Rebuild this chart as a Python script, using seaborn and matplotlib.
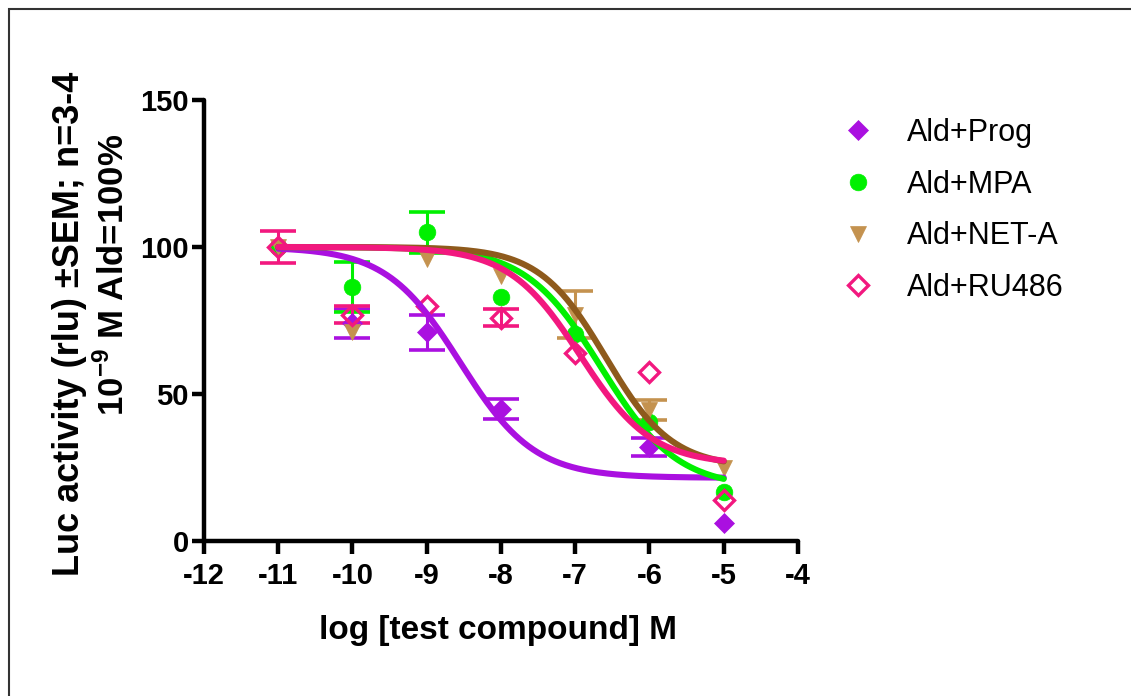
import numpy as np
import pandas as pd
import matplotlib
matplotlib.use("Agg")
import matplotlib.pyplot as plt
import seaborn as sns
from matplotlib.lines import Line2D
from matplotlib.patches import Rectangle

# ---------------- data ----------------
series_names = ["Ald+Prog", "Ald+MPA", "Ald+NET-A", "Ald+RU486"]
log_conc = [-11, -10, -9, -8, -7, -6, -5]

prog_mean = [100, 74, 71, 45, np.nan, 32, 6]
prog_sem = [0, 5, 6, 3.4, 0, 3, 0]
mpa_mean = [100, 86.5, 105, 83, 70.5, 40.5, 16.5]
mpa_sem = [0, 8.5, 7, 0, 0, 0, 0]
neta_mean = [100, 71, 96, 90, 77, 44.5, 25]
neta_sem = [0, 0, 0, 0, 8, 3.5, 0]
ru_mean = [100, 77, 80, 76, 64, 57.5, 14]
ru_sem = [5.5, 3, 0, 3, 0, 0, 0]

# sigmoidal dose-response fit parameters (top, bottom, logEC50, hill slope)
fit_top = [100, 100, 100, 100]
fit_bottom = [21.5, 18, 25, 26]
fit_logec50 = [-8.55, -6.65, -6.59, -6.93]
fit_hill = [0.87, 0.85, 0.97, 0.90]
fit_range = [-11, -5]

x_ticks = [-12, -11, -10, -9, -8, -7, -6, -5, -4]
y_ticks = [0, 50, 100, 150]

# ---------------- styles ----------------
marker_colors = ["#AA10E0", "#00F000", "#C4924F", "#F2187F"]
line_colors = ["#AA10E0", "#00F000", "#8E5A1C", "#F2187F"]
markers = ["D", "o", "v", "D"]
marker_sizes = [10, 12, 12, 10]
filled = [True, True, True, False]

sns.set_style("ticks")
plt.rcParams["font.family"] = ["Liberation Sans", "DejaVu Sans"]
plt.rcParams["text.color"] = "black"
plt.rcParams["xtick.color"] = "black"
plt.rcParams["ytick.color"] = "black"
plt.rcParams["mathtext.fontset"] = "custom"
plt.rcParams["mathtext.rm"] = "Liberation Sans:bold"
plt.rcParams["mathtext.bf"] = "Liberation Sans:bold"

W, H = 1131, 696
fig = plt.figure(figsize=(W / 100, H / 100), dpi=100)
ax = fig.add_axes([204 / W, 1 - 541 / H, (798 - 204) / W, (541 - 100) / H])

means = [prog_mean, mpa_mean, neta_mean, ru_mean]
sems = [prog_sem, mpa_sem, neta_sem, ru_sem]

# points with error bars
for i, name in enumerate(series_names):
    x = np.array(log_conc, dtype=float)
    m = np.array(means[i], dtype=float)
    e = np.array(sems[i], dtype=float)
    keep = e > 0
    ax.errorbar(x[keep], m[keep], yerr=e[keep], fmt="none",
                ecolor=marker_colors[i], elinewidth=2.2, capsize=13,
                capthick=2.6, zorder=2 + i * 0.1, clip_on=False)
    ax.plot(x, m, linestyle="none", marker=markers[i],
            ms=marker_sizes[i],
            mfc=marker_colors[i] if filled[i] else "none",
            mec=marker_colors[i], mew=2.4 if not filled[i] else 0.5,
            zorder=3 + i * 0.1, clip_on=False)

# fitted curves
rows = []
xs = np.linspace(fit_range[0], fit_range[1], 300)
for i, name in enumerate(series_names):
    ys = fit_bottom[i] + (fit_top[i] - fit_bottom[i]) / (1 + 10 ** ((xs - fit_logec50[i]) * fit_hill[i]))
    rows.append(pd.DataFrame({"x": xs, "y": ys, "series": name}))
curves = pd.concat(rows, ignore_index=True)
sns.lineplot(data=curves, x="x", y="y", hue="series", hue_order=series_names,
             palette=dict(zip(series_names, line_colors)), linewidth=4.4,
             legend=False, ax=ax, zorder=5, sort=False)
for ln in ax.get_lines():
    ln.set_solid_capstyle("round")

ax.set_xlim(-12, -4)
ax.set_ylim(0, 150)
ax.set_xticks(x_ticks)
ax.set_yticks(y_ticks)
ax.set_xticklabels([str(v) for v in x_ticks], fontsize=21, fontweight="bold")
ax.set_yticklabels([str(v) for v in y_ticks], fontsize=21, fontweight="bold")
ax.set_xlabel("")
ax.set_ylabel("")
for s in ["top", "right"]:
    ax.spines[s].set_visible(False)
for s in ["left", "bottom"]:
    ax.spines[s].set_linewidth(3.2)
    ax.spines[s].set_color("black")
    ax.spines[s].set_capstyle("round")
ax.tick_params(axis="both", direction="out", length=9, width=3.2, color="black",
               labelcolor="black")
ax.tick_params(axis="x", pad=6)
ax.tick_params(axis="y", pad=2)
ax.patch.set_alpha(0)

# axis titles
fig.text((328 + 668) / 2 / W, 1 - 630 / H, "log [test compound] M",
         fontsize=24, fontweight="bold", ha="center", va="center")
fig.text(70 / W, 1 - 324 / H, "Luc activity (rlu) \u00b1SEM; n=3-4", fontsize=26,
         fontweight="bold", rotation=90, ha="center", va="center")
fig.text(113 / W, 1 - 275 / H, "10$^{\\mathbf{-9}}$ M Ald=100%", fontsize=25,
         fontweight="bold", rotation=90, ha="center", va="center")

# legend
handles = []
for i, name in enumerate(series_names):
    handles.append(Line2D([], [], linestyle="none", marker=markers[i], ms=marker_sizes[i],
                          mfc=marker_colors[i] if filled[i] else "none",
                          mec=marker_colors[i], mew=2.4 if not filled[i] else 0.5))
leg = fig.legend(handles, series_names, loc="upper left",
                 bbox_to_anchor=(843 / W, 1 - 118 / H), frameon=False,
                 fontsize=22, handlelength=1.0, handletextpad=1.09,
                 labelspacing=0.71, borderpad=0, borderaxespad=0)
for t in leg.get_texts():
    t.set_color("black")

# figure frame
fig.patches.append(Rectangle((9 / W, -0.2), 1.2, 1.2 - 9 / H, transform=fig.transFigure,
                             fill=False, edgecolor="#333333", linewidth=1.5, zorder=0))

fig.savefig("out.png", dpi=100)
